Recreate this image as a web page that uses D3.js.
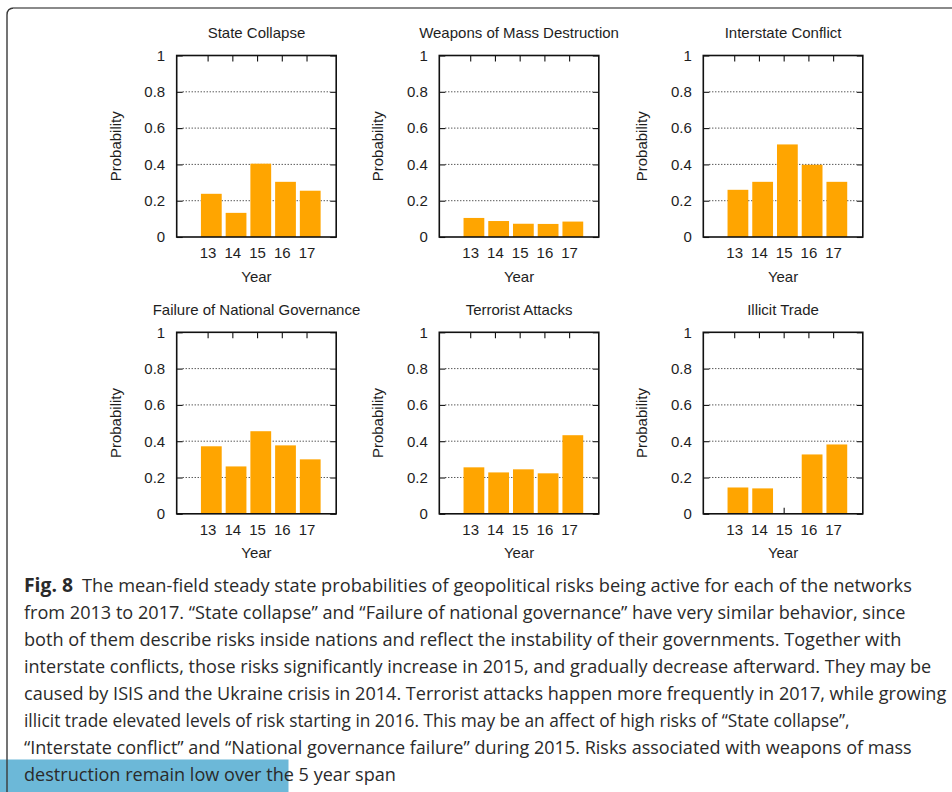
<!DOCTYPE html>
<html>
<head>
<meta charset="utf-8">
<script src="https://cdn.jsdelivr.net/npm/d3@7"></script>
<style>
  html, body { margin: 0; padding: 0; background: #fff; }
  svg { display: block; }
</style>
</head>
<body>
<svg id="chart" width="952" height="792"></svg>
<script>
// ---------------- data ----------------
const years = [13, 14, 15, 16, 17];
const panelTitles = ["State Collapse", "Weapons of Mass Destruction", "Interstate Conflict",
                     "Failure of National Governance", "Terrorist Attacks", "Illicit Trade"];
const stateCollapse = [0.238, 0.133, 0.404, 0.304, 0.255];
const weaponsMassDestruction = [0.105, 0.088, 0.073, 0.072, 0.085];
const interstateConflict = [0.260, 0.304, 0.510, 0.398, 0.304];
const nationalGovernance = [0.372, 0.261, 0.455, 0.377, 0.300];
const terroristAttacks = [0.256, 0.228, 0.245, 0.223, 0.433];
const illicitTrade = [0.145, 0.140, 0.000, 0.327, 0.382];
const seriesList = [stateCollapse, weaponsMassDestruction, interstateConflict,
                    nationalGovernance, terroristAttacks, illicitTrade];
const yTickValues = [0, 0.2, 0.4, 0.6, 0.8, 1];
const yTickLabels = ["0", "0.2", "0.4", "0.6", "0.8", "1"];
const xLabel = "Year";
const yLabel = "Probability";
const captionBold = "Fig. 8";
const captionLines = [
  "The mean-field steady state probabilities of geopolitical risks being active for each of the networks",
  "from 2013 to 2017. \u201CState collapse\u201D and \u201CFailure of national governance\u201D have very similar behavior, since",
  "both of them describe risks inside nations and reflect the instability of their governments. Together with",
  "interstate conflicts, those risks significantly increase in 2015, and gradually decrease afterward. They may be",
  "caused by ISIS and the Ukraine crisis in 2014. Terrorist attacks happen more frequently in 2017, while growing",
  "illicit trade elevated levels of risk starting in 2016. This may be an affect of high risks of \u201CState collapse\u201D,",
  "\u201CInterstate conflict\u201D and \u201CNational governance failure\u201D during 2015. Risks associated with weapons of mass",
  "destruction remain low over the 5 year span"
];

// ---------------- layout ----------------
const svg = d3.select("#chart");
const W = 952, H = 792;
const colLeft = [176.7, 439.3, 703.3];
const rowTop = [55.5, 332.3];
const pw = 159.5, ph = 181.5;
const chartFont = "'Liberation Sans', Arial, Helvetica, sans-serif";
const textColor = "#1e1e1e";
const barColor = "#ffa500";

// frame of the figure box
svg.append("rect").attr("x", 0).attr("y", 759.5).attr("width", 288.5).attr("height", 33)
  .attr("fill", "#6cb8d8");
svg.append("path").attr("d", "M7,792 V15 Q7,8 14,8")
  .attr("fill", "none").attr("stroke", "#3a3a3a").attr("stroke-width", 1.4);
svg.append("line").attr("x1", 13).attr("x2", W).attr("y1", 8).attr("y2", 8)
  .attr("stroke", "#8a8a8a").attr("stroke-width", 2);

const x = d3.scaleLinear().domain([11.75, 18.2]).range([0, pw]);
const y = d3.scaleLinear().domain([0, 1]).range([ph, 0]);
const barLeftOff = -0.27, barRightOff = 0.57;

seriesList.forEach((vals, i) => {
  const col = i % 3, row = Math.floor(i / 3);
  const g = svg.append("g").attr("transform", `translate(${colLeft[col]},${rowTop[row]})`);

  // dotted grid
  g.append("g").selectAll("line")
    .data(yTickValues.filter(v => v > 0 && v < 1))
    .join("line")
    .attr("x1", 6).attr("x2", pw - 6)
    .attr("y1", d => y(d)).attr("y2", d => y(d))
    .attr("stroke", "#111").attr("stroke-width", 1)
    .attr("stroke-dasharray", "1,2");

  // axes
  const yAxis = d3.axisLeft(y).tickValues(yTickValues)
    .tickFormat((d, k) => yTickLabels[k]).tickSize(-6).tickPadding(11.5);
  const gy = g.append("g").call(yAxis);
  const yAxisR = d3.axisRight(y).tickValues(yTickValues).tickFormat("").tickSize(-6);
  const gyr = g.append("g").attr("transform", `translate(${pw},0)`).call(yAxisR);
  const xAxisTop = d3.axisTop(x).tickValues(years).tickFormat("").tickSize(-6);
  const gxt = g.append("g").call(xAxisTop);
  const xAxis = d3.axisBottom(x).tickValues(years).tickFormat(d => d).tickSize(-6).tickPadding(10.8);
  const gx = g.append("g").attr("transform", `translate(0,${ph})`).call(xAxis);

  [gy, gyr, gxt, gx].forEach(a => {
    a.select(".domain").remove();
    a.selectAll(".tick line").attr("stroke", "#111").attr("stroke-width", 1.1);
    a.selectAll("text").attr("font-family", chartFont).attr("font-size", 15).attr("fill", textColor);
  });

  // bars
  g.append("g").selectAll("rect")
    .data(years.map((yr, k) => ({ yr, v: vals[k] })).filter(d => d.v > 0))
    .join("rect")
    .attr("x", d => x(d.yr + barLeftOff))
    .attr("width", d => x(d.yr + barRightOff) - x(d.yr + barLeftOff))
    .attr("y", d => y(d.v))
    .attr("height", d => y(0) - y(d.v))
    .attr("fill", barColor);

  // border
  g.append("rect").attr("x", 0).attr("y", 0).attr("width", pw).attr("height", ph)
    .attr("fill", "none").attr("stroke", "#111").attr("stroke-width", 1.6);

  // title
  g.append("text").attr("x", pw / 2).attr("y", -17.5).attr("text-anchor", "middle")
    .attr("font-family", chartFont).attr("font-size", 15).attr("fill", textColor)
    .text(panelTitles[i]);
  // x label
  g.append("text").attr("x", pw / 2).attr("y", ph + 44.5).attr("text-anchor", "middle")
    .attr("font-family", chartFont).attr("font-size", 15).attr("fill", textColor)
    .text(xLabel);
  // y label
  g.append("text").attr("transform", `translate(-56,${ph / 2}) rotate(-90)`)
    .attr("text-anchor", "middle")
    .attr("font-family", chartFont).attr("font-size", 15).attr("fill", textColor)
    .text(yLabel);
});

// ---------------- caption ----------------
const capFont = "'Open Sans', 'Noto Sans', sans-serif";
const capSize = 19;
const capX = 24, capBase = 592, capStep = 27;
const lineEnds = [912, 906, 902, 932, 946, 850, 912, 396];
const boldEnd = 73;
const firstStart = 82;

function fitText(str, x0, x1, yb, weight) {
  const t = svg.append("text")
    .attr("font-family", capFont).attr("font-size", capSize)
    .attr("font-weight", weight).attr("fill", "#2a2a2a")
    .text(str);
  const natural = t.node().getComputedTextLength();
  const sx = (x1 - x0) / natural;
  t.attr("transform", `translate(${x0},${yb}) scale(${sx},1)`);
}

fitText(captionBold, capX, boldEnd, capBase, "bold");
captionLines.forEach((ln, k) => {
  const sx = k === 0 ? firstStart : capX;
  fitText(ln, sx, lineEnds[k], capBase + k * capStep, "normal");
});
</script>
</body>
</html>
